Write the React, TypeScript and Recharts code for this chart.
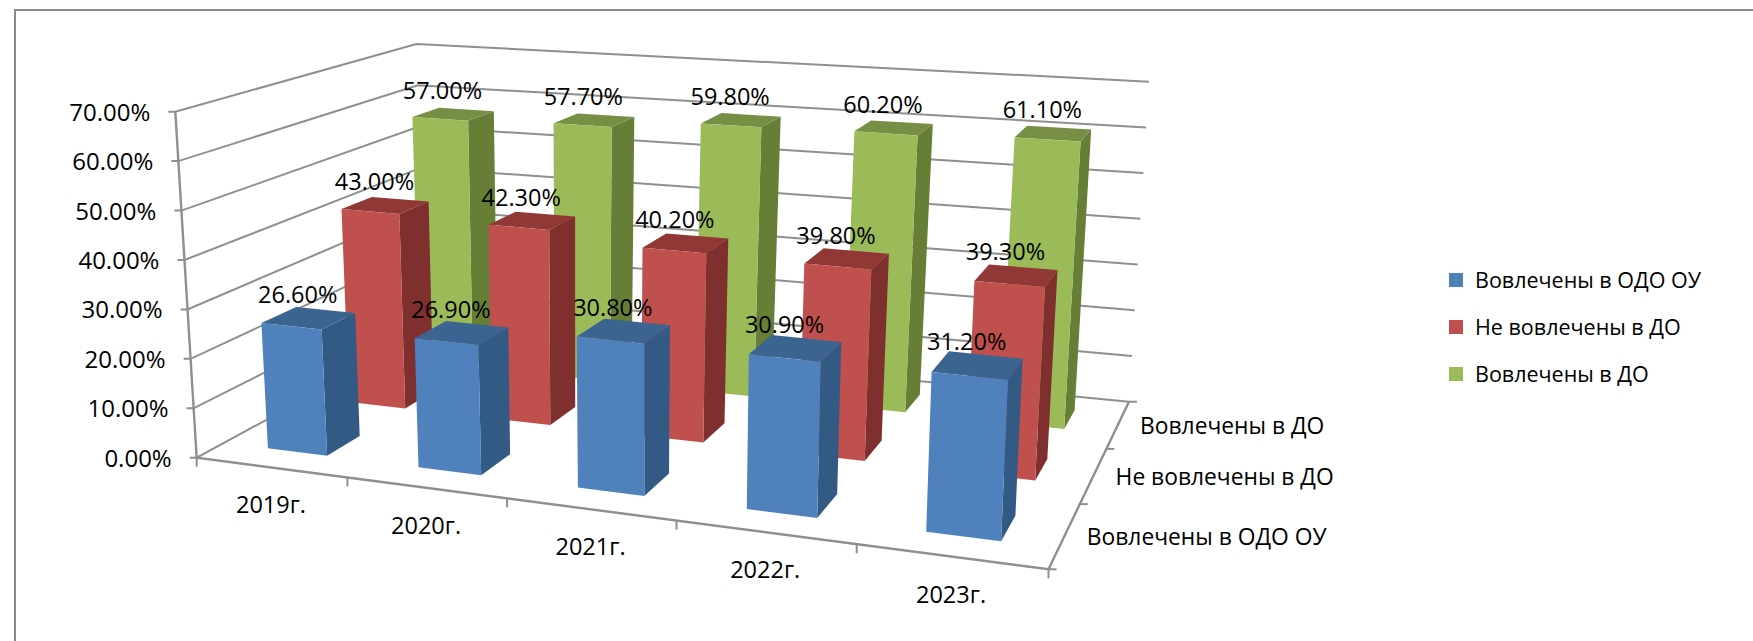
import { BarChart, Bar, XAxis, YAxis, CartesianGrid, Legend, LabelList } from 'recharts'

const years = ['2019г.', '2020г.', '2021г.', '2022г.', '2023г.']
const odoValues = [26.6, 26.9, 30.8, 30.9, 31.2]
const notInvolvedValues = [43.0, 42.3, 40.2, 39.8, 39.3]
const involvedValues = [57.0, 57.7, 59.8, 60.2, 61.1]
const yTicks = [0, 10, 20, 30, 40, 50, 60, 70]
const depthNames = ['Вовлечены в ОДО ОУ', 'Не вовлечены в ДО', 'Вовлечены в ДО']

const data = years.map((year, i) => ({
  year,
  odo: odoValues[i],
  notInvolved: notInvolvedValues[i],
  involved: involvedValues[i],
}))

const FONT = '"Open Sans", sans-serif'
const AXIS_COLOR = '#8f8f8f'
const WIDTH = 1753
const HEIGHT = 641

// flat plot rectangle recharts works in, every point is then projected into the 3d box
const PLOT = { left: 100, top: 100, width: 1000, height: 350 }
const BAR_SIZE = (PLOT.width / years.length) * 0.4

type Pt = [number, number]

// corners of the box in order: front-left, front-right, back-right, back-left
const FLOOR: Pt[] = [[196.7, 457.7], [1048.5, 569.3], [1129, 401.7], [426, 333]]
const CEILING: Pt[] = [[175.3, 111.7], [1066, 184], [1149, 81.7], [416.4, 44]]
// how fast the categories widen towards the right, same for floor and ceiling
const U_PERSPECTIVE = -0.14

function squareToQuad(q: Pt[]) {
  const [[x0, y0], [x1, y1], [x2, y2], [x3, y3]] = q
  const dx1 = x1 - x2
  const dx2 = x3 - x2
  const sx = x0 - x1 + x2 - x3
  const dy1 = y1 - y2
  const dy2 = y3 - y2
  const sy = y0 - y1 + y2 - y3
  const den = dx1 * dy2 - dx2 * dy1
  const g = (sx * dy2 - dx2 * sy) / den
  const h = (dx1 * sy - sx * dy1) / den
  const k = (1 + U_PERSPECTIVE) / (1 + g)
  return (uIn: number, v: number): Pt => {
    const u = (k * uIn) / (1 + (k - 1) * uIn)
    const w = g * u + h * v + 1
    return [
      ((x1 - x0 + g * x1) * u + (x3 - x0 + h * x3) * v + x0) / w,
      ((y1 - y0 + g * y1) * u + (y3 - y0 + h * y3) * v + y0) / w,
    ]
  }
}

const floorAt = squareToQuad(FLOOR)
const ceilingAt = squareToQuad(CEILING)

function project(u: number, v: number, h: number): Pt {
  const a = floorAt(u, v)
  const b = ceilingAt(u, v)
  return [a[0] + (b[0] - a[0]) * h, a[1] + (b[1] - a[1]) * h]
}

const toU = (x: number) => (x - PLOT.left) / PLOT.width
const toH = (y: number) => (PLOT.top + PLOT.height - y) / PLOT.height
const poly = (pts: Pt[]) => pts.map((p) => p[0].toFixed(1) + ',' + p[1].toFixed(1)).join(' ')
const line = (pts: Pt[]) => 'M' + pts.map((p) => p[0].toFixed(1) + ' ' + p[1].toFixed(1)).join('L')

// depth range of a series along the floor, gap depth 150%
const depthRange = (d: number): [number, number] => [(d + 0.3) / 3, (d + 0.7) / 3]
// front bars read a little shorter than the wall scale in the original
const barFactor = [0.965, 0.98, 0.995]

function makeBox(depth: number, front: string, side: string, top: string) {
  return function Box(props: any) {
    const { x, y, width } = props
    const u0 = toU(x)
    const u1 = toU(x + width)
    const h = toH(y) * barFactor[depth]
    const [v0, v1] = depthRange(depth)
    return (
      <g>
        <polygon
          points={poly([project(u1, v0, 0), project(u1, v1, 0), project(u1, v1, h), project(u1, v0, h)])}
          fill={side}
        />
        <polygon
          points={poly([project(u0, v0, h), project(u1, v0, h), project(u1, v1, h), project(u0, v1, h)])}
          fill={top}
        />
        <polygon
          points={poly([project(u0, v0, 0), project(u1, v0, 0), project(u1, v0, h), project(u0, v0, h)])}
          fill={front}
        />
      </g>
    )
  }
}

function makeValueLabel(depth: number) {
  return function ValueLabel(props: any) {
    const { x, y, width, value } = props
    const [v0, v1] = depthRange(depth)
    const [px, py] = project(toU(x + width / 2), (v0 + v1) / 2, toH(y) * barFactor[depth])
    return (
      <text x={px - 11} y={py - 15} textAnchor="middle" fontFamily={FONT} fontSize={23.5} fill="#000">
        {value.toFixed(2) + '%'}
      </text>
    )
  }
}

// wall lines come from the y scale, the base line also carries the floor edges
function WallLine(props: any) {
  const h = toH(props.y1)
  const left = project(0, 0, h)
  const isBase = Math.abs(h) < 0.001
  return (
    <g key={props.key} fill="none" stroke={AXIS_COLOR} strokeWidth={2}>
      <path d={line([[left[0] - 7, left[1]], left, project(0, 1, h), project(1, 1, h)])} />
      {isBase && (
        <>
          <path d={line([project(0, 0, 1), project(0, 0, 0), project(1, 0, 0), project(1, 1, 0)])} strokeWidth={2.4} />
          {[0, 1, 2, 3, 4, 5].map((i) => {
            const p = project(i / 5, 0, 0)
            return <path key={i} d={line([p, [p[0], p[1] + 9]])} />
          })}
          {[0, 1, 2, 3].map((i) => {
            const p = project(1, i / 3, 0)
            return <path key={i} d={line([p, [p[0] + 8, p[1]]])} />
          })}
          {depthNames.map((name, i) => {
            const p = project(1, (i + 0.5) / 3, 0)
            return (
              <text key={name} x={p[0] + 22} y={p[1] + 10} fontFamily={FONT} fontSize={22.8} fill="#000" stroke="none">
                {name}
              </text>
            )
          })}
        </>
      )}
    </g>
  )
}

function YTick(props: any) {
  const { y, payload } = props
  const p = project(0, 0, toH(y))
  return (
    <text x={p[0] - 25} y={p[1] + 9} textAnchor="end" fontFamily={FONT} fontSize={24} fill="#000">
      {payload.value.toFixed(2) + '%'}
    </text>
  )
}

function XTick(props: any) {
  const { x, payload } = props
  const p = project(toU(x), 0, 0)
  return (
    <text x={p[0]} y={p[1] + 46} textAnchor="middle" fontFamily={FONT} fontSize={23.5} fill="#000">
      {payload.value}
    </text>
  )
}

function LegendBox(props: any) {
  const items = [...(props.payload || [])].reverse()
  return (
    <div style={{ fontFamily: FONT, fontSize: 21.5, color: '#000' }}>
      {items.map((item: any) => (
        <div key={item.value} style={{ display: 'flex', alignItems: 'center', height: 47 }}>
          <span style={{ width: 14, height: 14, background: item.color, marginRight: 12 }} />
          {item.value}
        </div>
      ))}
    </div>
  )
}

export default function App() {
  return (
    <div style={{ position: 'absolute', left: 0, top: 0, width: WIDTH, height: HEIGHT, background: '#fff', overflow: 'hidden' }}>
      <div
        style={{
          position: 'absolute',
          left: 14,
          top: 9,
          right: 0,
          bottom: 0,
          borderLeft: '2px solid #8a8a8a',
          borderTop: '2px solid #8a8a8a',
        }}
      />
      <div style={{ position: 'absolute', left: 0, top: 0 }}>
        <BarChart
          width={WIDTH}
          height={HEIGHT}
          data={data}
          margin={{
            left: PLOT.left - 1,
            top: PLOT.top,
            right: WIDTH - PLOT.left - PLOT.width,
            bottom: HEIGHT - PLOT.top - PLOT.height - 1,
          }}
          barSize={BAR_SIZE}
          barGap={-BAR_SIZE}
        >
          <CartesianGrid vertical={false} horizontal={WallLine} />
          <XAxis dataKey="year" height={1} axisLine={false} tickLine={false} interval={0} tick={<XTick />} />
          <YAxis
            width={1}
            domain={[0, 70]}
            ticks={yTicks}
            axisLine={false}
            tickLine={false}
            interval={0}
            tick={<YTick />}
          />
          <Legend
            layout="vertical"
            align="center"
            verticalAlign="middle"
            itemSorter={null}
            content={<LegendBox />}
            wrapperStyle={{ left: 1449, top: 256, width: 300 }}
          />
          <Bar
            dataKey="involved"
            name={depthNames[2]}
            fill="#9BBB59"
            shape={makeBox(2, '#9BBB59', '#667E36', '#768F44')}
            isAnimationActive={false}
          >
            <LabelList dataKey="involved" content={makeValueLabel(2)} />
          </Bar>
          <Bar
            dataKey="notInvolved"
            name={depthNames[1]}
            fill="#C0504D"
            shape={makeBox(1, '#C0504D', '#7F302E', '#913836')}
            isAnimationActive={false}
          >
            <LabelList dataKey="notInvolved" content={makeValueLabel(1)} />
          </Bar>
          <Bar
            dataKey="odo"
            name={depthNames[0]}
            fill="#4F81BD"
            shape={makeBox(0, '#4F81BD', '#335A85', '#3C6491')}
            isAnimationActive={false}
          >
            <LabelList dataKey="odo" content={makeValueLabel(0)} />
          </Bar>
        </BarChart>
      </div>
    </div>
  )
}
